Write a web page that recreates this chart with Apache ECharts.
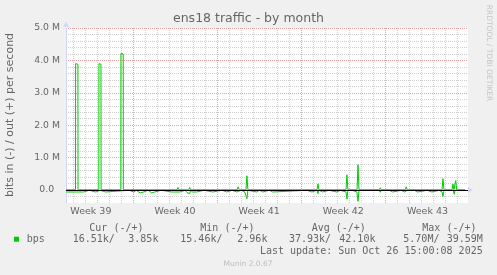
<!DOCTYPE html>
<html><head><meta charset="utf-8">
<script src="https://cdn.jsdelivr.net/npm/echarts@6/dist/echarts.min.js"></script>
<style>html,body{margin:0;padding:0;background:#f0f0f0}#c{width:497px;height:275px}</style>
</head><body><div id="c"></div>
<script>
// x values are days counted from Mon 2025-09-22 00:00 (start of Week 39); y values in M bits/s
const weekLabels = ['Week 39', 'Week 40', 'Week 41', 'Week 42', 'Week 43'];
const weekCenterDays = [3.5, 10.5, 17.5, 24.5, 31.5];
const yMajor = [0, 1, 2, 3, 4, 5];

// out (+) traffic
const outBps = [
  [1.45,0.008],
  [2.22,0.008],[2.23,3.90],[2.42,3.88],[2.43,0.008],
  [4.16,0.008],[4.17,3.90],[4.34,3.88],[4.35,0.008],
  [5.99,0.008],[6.00,4.21],[6.19,4.20],[6.20,0.008],
  [10.66,0.008],[10.74,0.08],[10.82,0.008],
  [11.64,0.008],[11.72,0.08],[11.80,0.008],
  [15.67,0.008],[15.75,0.10],[15.83,0.008],
  [16.40,0.008],[16.48,0.44],[16.56,0.008],
  [22.31,0.008],[22.39,0.19],[22.47,0.008],
  [24.72,0.008],[24.80,0.47],[24.88,0.008],
  [25.64,0.008],[25.72,0.78],[25.80,0.008],
  [27.49,0.008],[27.57,0.07],[27.65,0.008],
  [29.65,0.008],[29.73,0.10],[29.81,0.008],
  [32.71,0.008],[32.79,0.35],[32.87,0.008],
  [33.54,0.008],[33.62,0.19],[33.70,0.008],[33.77,0.06],[33.85,0.29],[33.93,0.008],
  [34.625,0.008]
];

// in (-) traffic, drawn negative
const inBps = [
  [1.45,-0.06],[2.15,-0.06],[2.19,-0.008],[2.28,-0.008],[2.32,-0.06],[2.90,-0.06],[2.94,-0.008],
  [3.36,-0.008],[3.40,-0.06],[3.90,-0.06],[3.94,-0.008],
  [4.27,-0.008],[4.31,-0.06],[4.73,-0.06],[4.77,-0.008],
  [6.69,-0.008],[6.73,-0.06],[7.06,-0.06],[7.10,-0.008],
  [7.27,-0.008],[7.31,-0.06],[7.60,-0.09],[7.89,-0.06],[7.93,-0.008],
  [8.27,-0.008],[8.31,-0.06],[8.56,-0.09],[8.81,-0.06],[8.85,-0.008],
  [9.35,-0.008],[9.39,-0.06],[10.22,-0.06],[10.26,-0.008],
  [10.35,-0.008],[10.39,-0.06],[10.89,-0.06],[10.93,-0.008],
  [11.34,-0.008],[11.38,-0.06],[11.50,-0.08],[11.63,-0.06],[11.72,-0.11],[11.80,-0.008],
  [11.93,-0.008],[11.97,-0.06],[12.30,-0.06],[12.34,-0.008],
  [12.93,-0.008],[12.97,-0.06],[13.63,-0.06],[13.67,-0.008],
  [14.42,-0.008],[14.46,-0.06],[14.80,-0.06],[14.84,-0.008],
  [15.26,-0.008],[15.30,-0.06],[15.63,-0.06],[15.67,-0.008],
  [16.01,-0.008],[16.05,-0.06],[16.30,-0.06],[16.40,-0.008],[16.48,-0.27],[16.56,-0.008],
  [16.67,-0.008],[16.71,-0.06],[17.29,-0.06],[17.33,-0.008],
  [17.51,-0.008],[17.55,-0.06],[17.80,-0.06],[17.84,-0.008],
  [18.34,-0.008],[18.38,-0.06],[18.63,-0.06],[18.67,-0.008],
  [21.49,-0.008],[21.53,-0.06],[21.87,-0.06],[21.91,-0.008],
  [22.31,-0.008],[22.39,-0.11],[22.47,-0.008],
  [22.49,-0.008],[22.53,-0.06],[22.78,-0.06],[22.82,-0.008],
  [23.32,-0.008],[23.36,-0.06],[23.95,-0.06],[23.99,-0.008],
  [24.25,-0.008],[24.29,-0.06],[24.72,-0.06],[24.80,-0.28],[24.88,-0.008],
  [25.25,-0.008],[25.29,-0.06],[25.63,-0.06],[25.72,-0.35],[25.80,-0.008],
  [27.49,-0.008],[27.57,-0.07],[27.65,-0.008],
  [28.32,-0.008],[28.36,-0.06],[28.61,-0.06],[28.65,-0.008],
  [29.32,-0.008],[29.36,-0.06],[29.60,-0.06],[29.73,-0.12],[29.81,-0.008],
  [30.40,-0.008],[30.44,-0.06],[30.69,-0.06],[30.73,-0.008],
  [31.48,-0.008],[31.52,-0.06],[31.86,-0.06],[31.90,-0.008],
  [32.48,-0.008],[32.52,-0.06],[32.71,-0.06],[32.79,-0.20],[32.87,-0.008],
  [33.64,-0.008],[33.72,-0.13],[33.80,-0.008],
  [34.625,-0.008]
];

const legendHeads = ['Cur (-/+)', 'Min (-/+)', 'Avg (-/+)', 'Max (-/+)'];
const legendVals = ['16.51k/', '3.85k', '15.46k/', '2.96k', '37.93k/', '42.10k', '5.70M/', '39.59M'];
const seriesName = 'bps';
const lastUpdate = 'Last update: Sun Oct 26 15:00:08 2025';

const DAYS_PER_WEEK = 7;
const X_MIN_DAY = 1.43, X_MAX_DAY = 34.87, Y_MIN = -0.4, Y_MAX = 5;
const GREEN = '#00cc00', AXIS = '#cfd6f8', GRID = '#cfcfcf', MGRID = '#e8a0a0', FONT = '#666666';
const SANS = '"DejaVu Sans"', MONO = '"DejaVu Sans Mono"';

// the x axis runs in weeks so that week boundaries are whole numbers and days are its minor ticks
const toWeeks = p => [p[0] / DAYS_PER_WEEK, p[1]];
const weekCenters = weekCenterDays.map(d => d / DAYS_PER_WEEK);

const chart = echarts.init(document.getElementById('c'), null, {renderer: 'canvas'});

function txt(x, y, text, opt) {
  opt = opt || {};
  return {
    type: 'text', x: x, y: y, rotation: opt.rotation || 0, silent: true, z: 10,
    style: {
      text: text, font: opt.font, fill: opt.fill || FONT,
      align: opt.align || 'left', textAlign: opt.align || 'left',
      verticalAlign: 'middle', textVerticalAlign: 'middle'
    }
  };
}

const headX = [89.3, 200.3, 311.7, 422.3];
const valX = [72.7, 128.3, 180.3, 237.3, 289, 339.3, 403.3, 446.7];
const graphics = [
  txt(248.5, 18.5, 'ens18 traffic - by month', {font: '12.5px ' + SANS, align: 'center'}),
  txt(10.5, 115, 'bits in (-) / out (+) per second', {font: '11px ' + SANS, align: 'center', rotation: Math.PI / 2}),
  txt(488.5, 53, 'RRDTOOL / TOBI OETIKER', {font: '7.5px ' + SANS, align: 'center', rotation: -Math.PI / 2, fill: '#c4c4c4'}),
  {type: 'rect', shape: {x: 14, y: 236.7, width: 5, height: 5}, style: {fill: GREEN}, silent: true, z: 10},
  txt(26.7, 239.7, seriesName, {font: '10px ' + MONO}),
  txt(482.7, 251.5, lastUpdate, {font: '10px ' + MONO, align: 'right'}),
  txt(248, 264, 'Munin 2.0.67', {font: '7.5px ' + SANS, align: 'center', fill: '#bdbdbd'})
];
legendHeads.forEach((h, i) => graphics.push(txt(headX[i], 228.3, h, {font: '10px ' + MONO})));
legendVals.forEach((v, i) => graphics.push(txt(valX[i], 239.7, v, {font: '10px ' + MONO})));

chart.setOption({
  animation: false,
  backgroundColor: '#f0f0f0',
  grid: {left: 66, right: 29, top: 28, bottom: 72, show: true, backgroundColor: '#ffffff', borderWidth: 0,
    containLabel: false, outerBoundsMode: 'none'},
  xAxis: {
    type: 'value', min: X_MIN_DAY / DAYS_PER_WEEK, max: X_MAX_DAY / DAYS_PER_WEEK, position: 'bottom',
    axisLine: {show: true, lineStyle: {color: AXIS, width: 1}, symbol: ['none', 'triangle'], symbolSize: [6, 5], symbolOffset: [0, 2.5]},
    axisTick: {show: false},
    minorTick: {show: false, splitNumber: 7},
    minorSplitLine: {show: true, lineStyle: {color: GRID, type: [1, 1], width: 1}},
    splitLine: {show: true, showMinLine: false, showMaxLine: false, lineStyle: {color: MGRID, type: [1, 1], width: 1}},
    axisLabel: {show: true, customValues: weekCenters, margin: 4, color: FONT, fontFamily: 'DejaVu Sans', fontSize: 9.5,
      formatter: function (v) {
        let best = 0;
        weekCenters.forEach((c, i) => { if (Math.abs(c - v) < Math.abs(weekCenters[best] - v)) best = i; });
        return weekLabels[best];
      }}
  },
  yAxis: {
    type: 'value', min: Y_MIN, max: Y_MAX, position: 'left',
    axisLine: {show: true, lineStyle: {color: AXIS, width: 1}, symbol: ['none', 'triangle'], symbolSize: [6, 5], symbolOffset: [0, 3.8]},
    axisTick: {show: false},
    minorTick: {show: false, splitNumber: 5},
    minorSplitLine: {show: true, lineStyle: {color: GRID, type: [1, 1], width: 1}},
    splitLine: {show: true, showMinLine: false, lineStyle: {color: MGRID, type: [1, 1], width: 1}},
    axisLabel: {show: true, customValues: yMajor, margin: 6, color: FONT, fontFamily: 'DejaVu Sans', fontSize: 9.3,
      formatter: function (v) { return v === 0 ? '0.0  ' : v.toFixed(1) + ' M'; }}
  },
  series: [
    {
      type: 'line', name: 'out', data: outBps.map(toWeeks),
      showSymbol: false, symbol: 'none', lineStyle: {color: GREEN, width: 1}, itemStyle: {color: GREEN}, z: 3,
      markLine: {silent: true, symbol: 'none', label: {show: false}, z: 5,
        lineStyle: {color: '#000000', width: 1, type: 'solid'}, data: [{yAxis: 0}]}
    },
    {
      type: 'line', name: 'in', data: inBps.map(toWeeks),
      showSymbol: false, symbol: 'none', lineStyle: {color: GREEN, width: 1}, itemStyle: {color: GREEN}, z: 3
    }
  ],
  graphic: graphics
});
</script>
</body></html>
